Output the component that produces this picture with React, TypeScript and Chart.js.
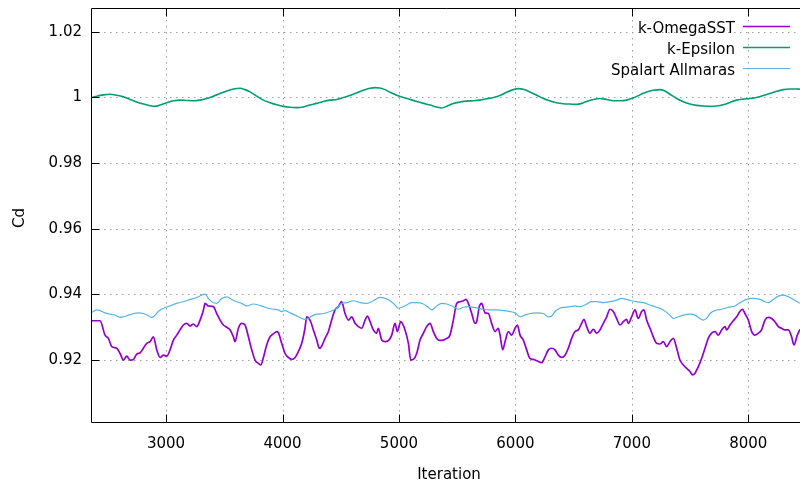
import React, { useEffect, useRef } from "react";
import { Chart, registerables } from "chart.js";

Chart.register(...registerables);

// ---- data ----
const xTickValues = [3000, 4000, 5000, 6000, 7000, 8000];
const yTickValues = [0.92, 0.94, 0.96, 0.98, 1.0, 1.02];
const seriesNames = ["k-OmegaSST", "k-Epsilon", "Spalart Allmaras"];
const seriesColors = ["#9400d3", "#009e73", "#56b4e9"];

const omegaIter = [
  2364, 2433, 2476, 2505, 2534, 2576, 2605, 2634, 2662, 2691, 2720, 2748, 2777, 2805, 2834, 2863, 2891, 2920, 2949, 2977,
  3006, 3034, 3063, 3092, 3120, 3149, 3177, 3206, 3235, 3263, 3292, 3321, 3335, 3363, 3406, 3435, 3464, 3492, 3521, 3550,
  3578, 3592, 3621, 3650, 3678, 3707, 3736, 3764, 3793, 3813, 3836, 3864, 3893, 3922, 3950, 3964, 3993, 4022, 4050, 4079,
  4108, 4136, 4165, 4193, 4208, 4236, 4265, 4294, 4317, 4337, 4365, 4394, 4422, 4451, 4480, 4508, 4537, 4566, 4594, 4623,
  4651, 4680, 4709, 4729, 4752, 4780, 4809, 4823, 4852, 4880, 4909, 4938, 4966, 4986, 5015, 5052, 5081, 5101, 5124, 5152,
  5181, 5210, 5238, 5267, 5295, 5324, 5353, 5381, 5410, 5438, 5467, 5496, 5524, 5553, 5576, 5596, 5625, 5653, 5667, 5690,
  5710, 5739, 5768, 5796, 5825, 5853, 5868, 5891, 5911, 5939, 5968, 5997, 6017, 6040, 6068, 6097, 6125, 6154, 6183, 6226,
  6254, 6283, 6311, 6340, 6369, 6397, 6426, 6454, 6483, 6512, 6540, 6569, 6589, 6612, 6640, 6669, 6698, 6726, 6755, 6784,
  6812, 6841, 6869, 6898, 6927, 6955, 6970, 6998, 7027, 7055, 7084, 7104, 7127, 7156, 7184, 7213, 7241, 7270, 7299, 7327,
  7356, 7385, 7413, 7442, 7470, 7499, 7522, 7542, 7571, 7599, 7628, 7656, 7685, 7714, 7742, 7771, 7800, 7814, 7843, 7871,
  7900, 7928, 7951, 7971, 8000, 8029, 8057, 8086, 8114, 8143, 8172, 8200, 8229, 8258, 8286, 8315, 8343, 8372, 8392, 8421,
  8444,
];
const omegaCd = [
  0.9319, 0.9319, 0.9275, 0.9265, 0.924, 0.9235, 0.9219, 0.9199, 0.9211, 0.9199, 0.9201, 0.9217, 0.9221, 0.9235, 0.925, 0.9255, 0.927, 0.923, 0.9207, 0.9214,
  0.9211, 0.923, 0.926, 0.9275, 0.9291, 0.9306, 0.9311, 0.9303, 0.9309, 0.9301, 0.9321, 0.9352, 0.9372, 0.9364, 0.9362, 0.9341, 0.9321, 0.9306, 0.9299, 0.9291,
  0.927, 0.9255, 0.9296, 0.9311, 0.9306, 0.927, 0.923, 0.9199, 0.9189, 0.9184, 0.9207, 0.9245, 0.927, 0.9279, 0.9286, 0.9283, 0.925, 0.9219, 0.9207, 0.9201,
  0.9207, 0.9225, 0.925, 0.9296, 0.9331, 0.9321, 0.9291, 0.926, 0.9235, 0.9242, 0.9265, 0.9286, 0.9321, 0.9352, 0.9362, 0.9377, 0.9341, 0.9321, 0.9331, 0.9311,
  0.9301, 0.9296, 0.9321, 0.9333, 0.9316, 0.9291, 0.9281, 0.9296, 0.926, 0.9255, 0.9258, 0.9275, 0.9311, 0.9286, 0.9316, 0.9291, 0.925, 0.9199, 0.9201, 0.9219,
  0.926, 0.9281, 0.9301, 0.9311, 0.9286, 0.9265, 0.9259, 0.926, 0.9265, 0.9275, 0.9321, 0.9372, 0.9377, 0.938, 0.9384, 0.9372, 0.9341, 0.9311, 0.9316, 0.9362,
  0.9372, 0.9343, 0.9341, 0.9311, 0.9286, 0.9296, 0.9275, 0.923, 0.9255, 0.9286, 0.9275, 0.9296, 0.9306, 0.9275, 0.926, 0.923, 0.9204, 0.9201, 0.9197, 0.9191,
  0.9209, 0.923, 0.9235, 0.923, 0.9214, 0.9207, 0.9214, 0.9235, 0.9265, 0.9286, 0.9291, 0.9311, 0.9323, 0.9301, 0.9281, 0.9293, 0.9281, 0.9291, 0.9311, 0.9331,
  0.9354, 0.9347, 0.9326, 0.9306, 0.9316, 0.9323, 0.9311, 0.9331, 0.9352, 0.9326, 0.9347, 0.9352, 0.9321, 0.9296, 0.927, 0.925, 0.9248, 0.9255, 0.924, 0.9255,
  0.9265, 0.9235, 0.9199, 0.9184, 0.9174, 0.9164, 0.9154, 0.9159, 0.9179, 0.9204, 0.9235, 0.9265, 0.9281, 0.9286, 0.9275, 0.9291, 0.9301, 0.9291, 0.9306, 0.9319,
  0.9331, 0.9347, 0.9354, 0.9341, 0.9321, 0.9286, 0.9275, 0.9281, 0.9291, 0.9321, 0.9329, 0.9326, 0.9316, 0.9301, 0.9296, 0.9291, 0.9291, 0.927, 0.9245, 0.9275,
  0.9293,
];

const epsIter = [
  2364, 2405, 2462, 2519, 2576, 2634, 2691, 2748, 2805, 2863, 2906, 2949, 3006, 3063, 3120, 3177, 3235, 3292, 3349, 3406,
  3464, 3521, 3578, 3635, 3678, 3721, 3778, 3836, 3893, 3950, 4007, 4065, 4122, 4179, 4236, 4294, 4351, 4408, 4465, 4523,
  4580, 4637, 4694, 4752, 4795, 4837, 4880, 4923, 4981, 5038, 5095, 5152, 5210, 5267, 5324, 5367, 5410, 5467, 5524, 5582,
  5639, 5696, 5753, 5811, 5868, 5925, 5982, 6025, 6068, 6125, 6183, 6240, 6297, 6354, 6412, 6469, 6526, 6569, 6612, 6669,
  6726, 6784, 6841, 6898, 6955, 7013, 7070, 7127, 7184, 7241, 7284, 7327, 7385, 7442, 7499, 7556, 7614, 7671, 7728, 7785,
  7843, 7900, 7957, 8014, 8071, 8129, 8186, 8243, 8300, 8358, 8415, 8444,
];
const epsCd = [
  1.0, 1.0004, 1.0008, 1.001, 1.0007, 1.0002, 0.9994, 0.9986, 0.998, 0.9975, 0.9973, 0.9977, 0.9984, 0.999, 0.9992, 0.9991, 0.999, 0.9992, 0.9997, 1.0004,
  1.0012, 1.002, 1.0026, 1.0028, 1.0024, 1.0017, 1.0004, 0.9992, 0.9984, 0.9978, 0.9973, 0.997, 0.9969, 0.9971, 0.9977, 0.9982, 0.9988, 0.9992, 0.9994, 1.0,
  1.0006, 1.0014, 1.0022, 1.0028, 1.003, 1.0029, 1.0024, 1.0016, 1.0007, 1.0, 0.9994, 0.9988, 0.9982, 0.9977, 0.9971, 0.9968, 0.9973, 0.9982, 0.9986, 0.9989,
  0.999, 0.9992, 0.9996, 1.0, 1.0006, 1.0016, 1.0024, 1.0027, 1.0025, 1.0017, 1.0007, 0.9997, 0.999, 0.9984, 0.9981, 0.998, 0.9979, 0.9982, 0.9988, 0.9994,
  0.9997, 0.9994, 0.999, 0.999, 0.9992, 0.9999, 1.0008, 1.0017, 1.0022, 1.0024, 1.002, 1.001, 0.9997, 0.9987, 0.998, 0.9976, 0.9974, 0.9973, 0.9974, 0.9978,
  0.9985, 0.9992, 0.9995, 0.9997, 1.0, 1.0006, 1.0012, 1.0019, 1.0024, 1.0026, 1.0026, 1.0025,
];

const saIter = [
  2364, 2405, 2433, 2476, 2519, 2562, 2605, 2634, 2677, 2720, 2762, 2805, 2848, 2877, 2906, 2934, 2977, 3034, 3092, 3149,
  3206, 3263, 3335, 3363, 3392, 3435, 3478, 3521, 3564, 3607, 3650, 3693, 3750, 3793, 3836, 3879, 3922, 3964, 3993, 4022,
  4065, 4108, 4151, 4193, 4222, 4251, 4294, 4351, 4408, 4465, 4508, 4551, 4608, 4666, 4723, 4780, 4837, 4880, 4923, 4966,
  4995, 5023, 5066, 5109, 5152, 5210, 5252, 5281, 5324, 5367, 5410, 5467, 5510, 5553, 5596, 5639, 5682, 5725, 5782, 5839,
  5896, 5954, 5997, 6040, 6082, 6125, 6183, 6240, 6283, 6311, 6340, 6383, 6426, 6469, 6512, 6555, 6612, 6655, 6698, 6755,
  6812, 6869, 6912, 6955, 6998, 7041, 7098, 7156, 7213, 7270, 7327, 7356, 7399, 7442, 7499, 7542, 7585, 7614, 7642, 7671,
  7714, 7771, 7828, 7885, 7943, 7986, 8043, 8100, 8143, 8172, 8215, 8258, 8300, 8343, 8386, 8444,
];
const saCd = [
  0.9345, 0.9352, 0.935, 0.9343, 0.9339, 0.9336, 0.9329, 0.9331, 0.9336, 0.9341, 0.9343, 0.9341, 0.9334, 0.9329, 0.9336, 0.9347, 0.9357, 0.9364, 0.9372, 0.9377,
  0.9384, 0.939, 0.94, 0.9387, 0.9377, 0.9372, 0.9387, 0.9392, 0.9384, 0.9377, 0.9372, 0.9364, 0.937, 0.9367, 0.9362, 0.9357, 0.9354, 0.9352, 0.9347, 0.935,
  0.9343, 0.9336, 0.9329, 0.9323, 0.9326, 0.9333, 0.9339, 0.9341, 0.9347, 0.9357, 0.9372, 0.9374, 0.938, 0.9374, 0.9372, 0.938, 0.939, 0.9387, 0.938, 0.9367,
  0.9357, 0.936, 0.9367, 0.9374, 0.9374, 0.937, 0.936, 0.9352, 0.9364, 0.9372, 0.937, 0.9362, 0.9354, 0.936, 0.9362, 0.936, 0.9357, 0.9354, 0.9352, 0.9352,
  0.935, 0.9347, 0.9343, 0.9331, 0.9336, 0.9341, 0.9343, 0.9341, 0.9331, 0.9333, 0.9347, 0.9357, 0.936, 0.9362, 0.9364, 0.9362, 0.937, 0.9377, 0.9377, 0.9374,
  0.9377, 0.9382, 0.9387, 0.9384, 0.938, 0.9377, 0.9374, 0.9367, 0.936, 0.9352, 0.9336, 0.9326, 0.9331, 0.9336, 0.9339, 0.9336, 0.9326, 0.9321, 0.9326, 0.9341,
  0.935, 0.9354, 0.936, 0.9364, 0.9377, 0.9384, 0.9387, 0.9384, 0.9377, 0.9374, 0.9384, 0.9394, 0.9397, 0.9392, 0.9384, 0.9372,
];

const X_MIN = 2364;
const X_MAX = 8444;
const Y_MIN = 0.9007;
const Y_MAX = 1.0273;

const FONT = "'DejaVu Sans', sans-serif";

const toPoints = (xs: number[], ys: number[]) => xs.map((x, i) => ({ x, y: ys[i] }));

const gnuplotPlugin = {
  id: "gnuplotStyle",
  beforeDatasetsDraw(chart: any) {
    const { ctx, chartArea: a, scales } = chart;
    const x = scales.x;
    const y = scales.y;
    ctx.save();
    ctx.strokeStyle = "#a0a0a0";
    ctx.lineWidth = 1;
    ctx.setLineDash([1.5, 4.5]);
    for (const t of xTickValues) {
      const px = Math.round(x.getPixelForValue(t)) + 0.5;
      ctx.beginPath();
      ctx.moveTo(px, a.top);
      ctx.lineTo(px, a.bottom);
      ctx.stroke();
    }
    for (const t of yTickValues) {
      const py = Math.round(y.getPixelForValue(t)) + 0.5;
      ctx.beginPath();
      ctx.moveTo(a.left, py);
      ctx.lineTo(a.right, py);
      ctx.stroke();
    }
    ctx.restore();
  },
  afterDatasetsDraw(chart: any) {
    const { ctx, chartArea: a, scales } = chart;
    const x = scales.x;
    const y = scales.y;
    ctx.save();
    ctx.setLineDash([]);
    ctx.strokeStyle = "#000";
    ctx.lineWidth = 1;
    const L = Math.round(a.left) - 0.5;
    const B = Math.round(a.bottom) - 0.5;
    const T = Math.round(a.top) + 0.5;
    ctx.beginPath();
    ctx.moveTo(L, T);
    ctx.lineTo(L, B);
    ctx.lineTo(a.right + 2, B);
    ctx.moveTo(L, T);
    ctx.lineTo(a.right + 2, T);
    // inward ticks
    const tl = 8;
    for (const t of xTickValues) {
      const px = Math.round(x.getPixelForValue(t)) + 0.5;
      ctx.moveTo(px, B);
      ctx.lineTo(px, B - tl);
      ctx.moveTo(px, T);
      ctx.lineTo(px, T + tl);
    }
    for (const t of yTickValues) {
      const py = Math.round(y.getPixelForValue(t)) + 0.5;
      ctx.moveTo(L, py);
      ctx.lineTo(L + tl, py);
    }
    ctx.stroke();

    // legend
    ctx.font = `15px ${FONT}`;
    ctx.fillStyle = "#000";
    ctx.textAlign = "right";
    ctx.textBaseline = "alphabetic";
    const baselines = [33, 54, 75];
    const lineYs = [26, 47, 68];
    seriesNames.forEach((n, i) => {
      ctx.fillText(n, 735, baselines[i]);
      ctx.strokeStyle = seriesColors[i];
      ctx.lineWidth = i === 2 ? 1.2 : 1.6;
      ctx.beginPath();
      ctx.moveTo(743, lineYs[i] + 0.5);
      ctx.lineTo(790, lineYs[i] + 0.5);
      ctx.stroke();
    });

    // axis titles
    ctx.fillStyle = "#000";
    ctx.textAlign = "center";
    ctx.textBaseline = "middle";
    ctx.fillText("Iteration", 449, 475);
    ctx.translate(20, 218);
    ctx.rotate(-Math.PI / 2);
    ctx.fillText("Cd", 0, 0);
    ctx.restore();
  },
};

export default function App() {
  const ref = useRef<HTMLCanvasElement | null>(null);
  useEffect(() => {
    if (!ref.current) return;
    const chart = new Chart(ref.current, {
      type: "line",
      data: {
        datasets: [
          {
            label: seriesNames[0],
            data: toPoints(omegaIter, omegaCd),
            borderColor: seriesColors[0],
            borderWidth: 1.7,
            pointRadius: 0,
            cubicInterpolationMode: "monotone",
            order: 2,
          },
          {
            label: seriesNames[1],
            data: toPoints(epsIter, epsCd),
            borderColor: seriesColors[1],
            borderWidth: 1.6,
            pointRadius: 0,
            cubicInterpolationMode: "monotone",
            order: 1,
          },
          {
            label: seriesNames[2],
            data: toPoints(saIter, saCd),
            borderColor: seriesColors[2],
            borderWidth: 1.2,
            pointRadius: 0,
            cubicInterpolationMode: "monotone",
            order: 0,
          },
        ],
      },
      options: {
        responsive: false,
        animation: false,
        devicePixelRatio: 1,
        layout: { padding: { top: 8, right: 0, bottom: 0, left: 0 } },
        plugins: { legend: { display: false }, tooltip: { enabled: false } },
        scales: {
          x: {
            type: "linear",
            min: X_MIN,
            max: X_MAX,
            grid: { display: false, drawTicks: false },
            border: { display: false },
            afterBuildTicks: (s: any) => {
              s.ticks = xTickValues.map((v) => ({ value: v }));
            },
            afterFit: (s: any) => {
              s.height = 66;
              s.paddingLeft = 0;
              s.paddingRight = 0;
            },
            ticks: {
              color: "#000",
              font: { family: FONT, size: 15 },
              padding: 12,
              maxRotation: 0,
              autoSkip: false,
              callback: (v: any) => String(v),
            },
          },
          y: {
            type: "linear",
            min: Y_MIN,
            max: Y_MAX,
            grid: { display: false, drawTicks: false },
            border: { display: false },
            afterBuildTicks: (s: any) => {
              s.ticks = yTickValues.map((v) => ({ value: v }));
            },
            afterFit: (s: any) => {
              s.width = 92;
              s.paddingTop = 0;
              s.paddingBottom = 0;
            },
            ticks: {
              color: "#000",
              font: { family: FONT, size: 15 },
              padding: 10,
              autoSkip: false,
              callback: (v: any) => String(+Number(v).toFixed(2)),
            },
          },
        },
      },
      plugins: [gnuplotPlugin],
    });
    return () => chart.destroy();
  }, []);
  return (
    <canvas
      ref={ref}
      width={800}
      height={489}
      style={{ position: "fixed", left: 0, top: 0, width: 800, height: 489, background: "#fff" }}
    />
  );
}
